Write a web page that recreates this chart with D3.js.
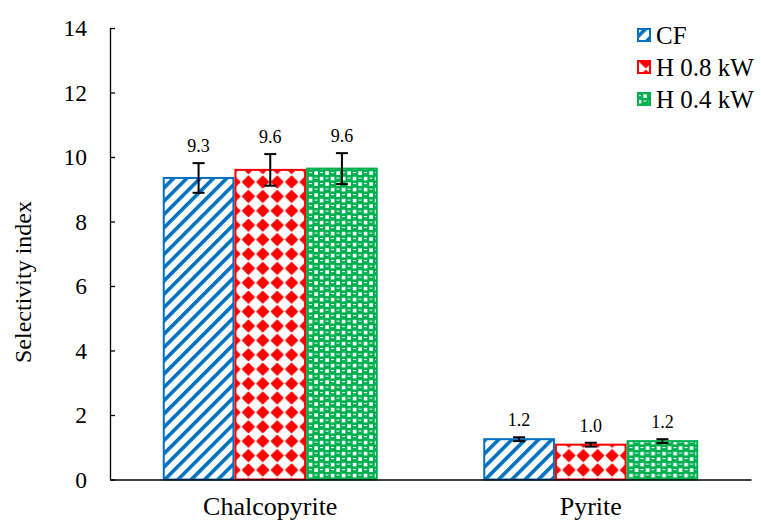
<!DOCTYPE html>
<html>
<head>
<meta charset="utf-8">
<script src="https://cdn.jsdelivr.net/npm/d3@7"></script>
<style>
  html, body { margin: 0; padding: 0; background: #fff; }
  svg { display: block; }
  svg text { font-family: "Liberation Serif", "Times New Roman", "DejaVu Serif", serif !important; }
</style>
</head>
<body>
<svg id="chart" width="761" height="522"></svg>
<script>
// ---- data ----
const categories = ["Chalcopyrite", "Pyrite"];
const seriesNames = ["CF", "H 0.8 kW", "H 0.4 kW"];
const cfValues   = [9.35, 1.25];
const h08Values  = [9.60, 1.08];
const h04Values  = [9.64, 1.19];
const cfErrors   = [0.46, 0.06];
const h08Errors  = [0.49, 0.06];
const h04Errors  = [0.48, 0.06];
const cfLabels   = ["9.3", "1.2"];
const h08Labels  = ["9.6", "1.0"];
const h04Labels  = ["9.6", "1.2"];
const yTicks = [0, 2, 4, 6, 8, 10, 12, 14];
const yTitle = "Selectivity index";

const seriesValues = [cfValues, h08Values, h04Values];
const seriesErrors = [cfErrors, h08Errors, h04Errors];
const seriesLabels = [cfLabels, h08Labels, h04Labels];
const colors = ["#0070C0", "#FF0000", "#00B050"];
const patternIds = ["pat-cf", "pat-h08", "pat-h04"];
const FONT = "'Liberation Serif', 'Times New Roman', 'DejaVu Serif', serif";

const svg = d3.select("#chart");
const defs = svg.append("defs");

// CF: diagonal blue stripes
const p1 = defs.append("pattern").attr("id", "pat-cf")
  .attr("patternUnits", "userSpaceOnUse").attr("width", 9.4).attr("height", 9.4)
  .attr("patternTransform", "rotate(45)");
p1.append("rect").attr("width", 9.4).attr("height", 9.4).attr("fill", "#fff");
p1.append("rect").attr("x", 0).attr("width", 3.6).attr("height", 9.4).attr("fill", colors[0]);

// H 0.8: red diamonds
const p2 = defs.append("pattern").attr("id", "pat-h08")
  .attr("patternUnits", "userSpaceOnUse").attr("width", 14.4).attr("height", 14.4)
  .attr("x", 1.6).attr("y", 2);
p2.append("rect").attr("width", 14.4).attr("height", 14.4).attr("fill", "#fff");
p2.append("path").attr("d", "M7.2,1.4 L13,7.2 L7.2,13 L1.4,7.2 Z").attr("fill", colors[1])
  .attr("stroke", colors[1]).attr("stroke-width", 1.4).attr("stroke-linejoin", "round");

// H 0.4: green checker with circles
const p3 = defs.append("pattern").attr("id", "pat-h04")
  .attr("patternUnits", "userSpaceOnUse").attr("width", 11).attr("height", 11);
p3.append("rect").attr("width", 11).attr("height", 11).attr("fill", colors[2]);
p3.append("rect").attr("x", 0.8).attr("y", 0.8).attr("width", 3.6).attr("height", 3.6).attr("fill", "#fff");
p3.append("rect").attr("x", 6.3).attr("y", 6.3).attr("width", 3.6).attr("height", 3.6).attr("fill", "#fff");
p3.append("rect").attr("x", 6.5).attr("y", 1.6).attr("width", 3).attr("height", 1).attr("fill", "#fff");
p3.append("rect").attr("x", 1).attr("y", 7.1).attr("width", 3).attr("height", 1).attr("fill", "#fff");

// ---- scales ----
const x0 = d3.scaleBand().domain(categories).range([110, 751]).paddingInner(0).paddingOuter(0);
const x1 = d3.scaleBand().domain(seriesNames).range([52.75, 267.75]).padding(0);
const y = d3.scaleLinear().domain([0, 14]).range([479.5, 28]);

// ---- bars ----
const groups = svg.append("g").selectAll("g").data(categories).join("g")
  .attr("transform", d => `translate(${x0(d)},0)`);

groups.each(function(cat, ci) {
  const g = d3.select(this);
  seriesNames.forEach((s, si) => {
    const v = seriesValues[si][ci];
    const bx = x1(s), bw = x1.bandwidth();
    g.append("rect")
      .attr("x", bx + 1).attr("y", y(v))
      .attr("width", bw - 2).attr("height", y(0) - y(v))
      .attr("fill", `url(#${patternIds[si]})`)
      .attr("stroke", colors[si]).attr("stroke-width", 2);
  });
});

// ---- axes ----
const yAxis = d3.axisLeft(y).tickValues(yTicks).tickSizeInner(-5).tickSizeOuter(0).tickPadding(23)
  .tickFormat(d3.format("d"));
const ya = svg.append("g").attr("transform", "translate(110,0)").call(yAxis)
  .attr("font-family", FONT);
ya.select(".domain").attr("stroke", "#000").attr("stroke-width", 1.3);
ya.selectAll(".tick line").attr("stroke", "#000").attr("stroke-width", 1.3);
ya.selectAll(".tick text").attr("font-family", FONT).attr("font-size", 23.5).attr("fill", "#000");

const xAxis = d3.axisBottom(x0).tickSize(0).tickPadding(17);
const xa = svg.append("g").attr("transform", `translate(0,${y(0)})`).call(xAxis)
  .attr("font-family", FONT);
xa.select(".domain").attr("stroke", "#000").attr("stroke-width", 1.5);
xa.selectAll(".tick text").attr("font-family", FONT).attr("font-size", 26).attr("fill", "#000");

// ---- error bars & labels ----
groups.each(function(cat, ci) {
  const g = d3.select(this);
  seriesNames.forEach((s, si) => {
    const v = seriesValues[si][ci];
    const e = seriesErrors[si][ci];
    const cx = x1(s) + x1.bandwidth() / 2;
    const eg = g.append("g").attr("stroke", "#000").attr("stroke-width", 2);
    eg.append("line").attr("x1", cx).attr("x2", cx).attr("y1", y(v - e)).attr("y2", y(v + e));
    eg.append("line").attr("x1", cx - 6).attr("x2", cx + 6).attr("y1", y(v - e)).attr("y2", y(v - e));
    eg.append("line").attr("x1", cx - 6).attr("x2", cx + 6).attr("y1", y(v + e)).attr("y2", y(v + e));
    g.append("text").attr("x", cx).attr("y", y(v + e) - 11)
      .attr("text-anchor", "middle").attr("font-family", FONT).attr("font-size", 18).attr("fill", "#000")
      .text(seriesLabels[si][ci]);
  });
});

// ---- y title ----
svg.append("text").attr("transform", "translate(31,282) rotate(-90)")
  .attr("text-anchor", "middle").attr("font-family", FONT).attr("font-size", 24).attr("fill", "#000").text(yTitle);

// ---- legend ----
const leg = svg.append("g").attr("transform", "translate(637,35)");
seriesNames.forEach((s, i) => {
  const r = leg.append("g").attr("transform", `translate(0,${i * 32})`);
  r.append("rect").attr("x", 1).attr("y", -6).attr("width", 12).attr("height", 12)
    .attr("fill", `url(#${patternIds[i]})`).attr("stroke", colors[i]).attr("stroke-width", 2);
  r.append("text").attr("x", 19).attr("y", 0).attr("dy", "0.35em")
    .attr("font-family", FONT).attr("font-size", 25).attr("fill", "#000").text(s);
});
</script>
</body>
</html>
